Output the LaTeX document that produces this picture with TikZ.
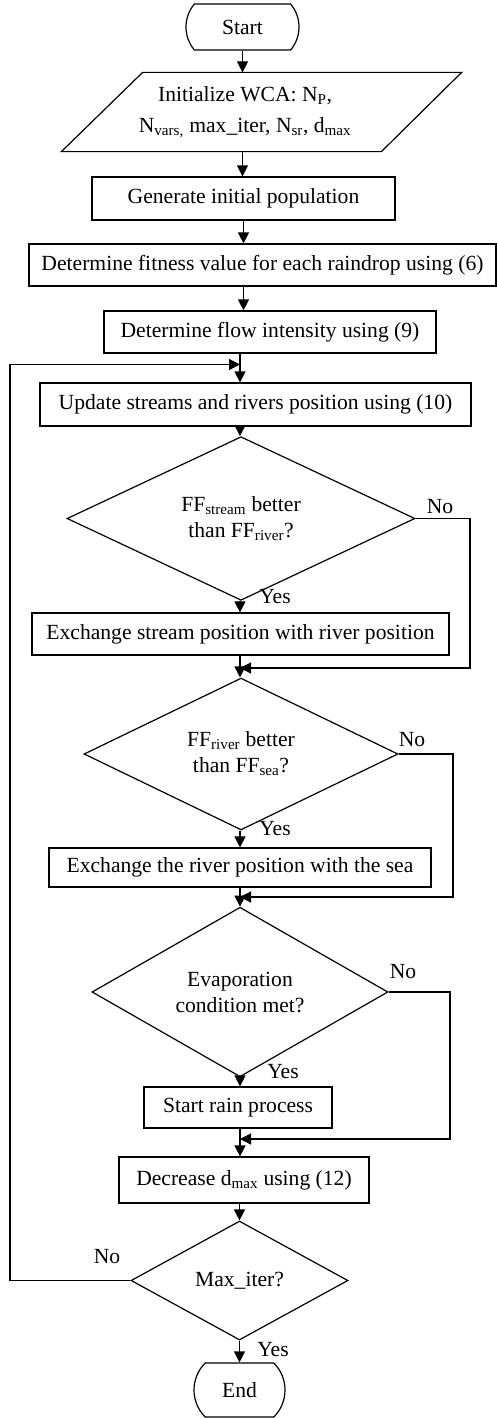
\documentclass[tikz,border=0pt]{standalone}
\usepackage{fontspec}
\setmainfont{Liberation Serif}
\usetikzlibrary{arrows.meta,shapes.geometric,shapes.misc}
\newcommand{\tsub}[1]{\textsubscript{#1}}
\begin{document}
\begin{tikzpicture}[x=1pt,y=-1pt,
  every node/.style={font=\fontsize{21.6}{26}\selectfont},
  line width=1.2pt,
  box/.style={draw, rectangle, inner sep=0pt},
  dia/.style={draw, diamond, inner sep=0pt, align=center},
  term/.style={draw, rounded rectangle, inner sep=0pt},
  arr/.style={-{Triangle[length=11pt,width=11pt]}},
  lbl/.style={inner sep=0pt}
]
\useasboundingbox (0,0) rectangle (497,1418);

\node[term, minimum width=113pt, minimum height=46pt, rounded rectangle arc length=80] (start) at (242.5,27) {Start};
\node[minimum width=399pt, minimum height=78pt, inner sep=0pt] (init) at (261.5,112) {};
\draw (init.south west) -- ++(320,0) -- (init.north east) -- ++(-319,0) -- cycle;
\node[align=center, font=\fontsize{21.6}{31}\selectfont] (inittext) at (245,112.5) {Initialize WCA: N\tsub{P},\\ N\tsub{vars,} max\_iter, N\tsub{sr}, d\tsub{max}};
\node[box, minimum width=303pt, minimum height=43pt] (gen) at (243.5,198.5) {Generate initial population};
\node[box, minimum width=467pt, minimum height=42pt] (fit) at (262.5,265) {Determine fitness value for each raindrop using (6)};
\node[box, minimum width=332pt, minimum height=42pt] (flow) at (270,332) {Determine flow intensity using (9)};
\node[box, minimum width=431pt, minimum height=43pt] (upd) at (255.5,404.5) {Update streams and rivers position using (10)};
\node[dia, minimum width=348pt, minimum height=139pt] (d1) at (241,518.5) {FF\tsub{stream} better\\than FF\tsub{river}?};
\node[box, minimum width=417pt, minimum height=42pt] (ex1) at (240.5,634) {Exchange stream position with river position};
\node[dia, minimum width=314pt, minimum height=132pt] (d2) at (241,754) {FF\tsub{river} better\\than FF\tsub{sea}?};
\node[box, minimum width=382pt, minimum height=39pt] (ex2) at (240,867.5) {Exchange the river position with the sea};
\node[dia, minimum width=296pt, minimum height=150pt] (d3) at (240,992) {Evaporation\\condition met?};
\node[box, minimum width=188pt, minimum height=41pt] (rain) at (238,1107.5) {Start rain process};
\node[box, minimum width=250pt, minimum height=46pt] (dec) at (244,1180) {Decrease d\tsub{max} using (12)};
\node[dia, minimum width=217pt, minimum height=119pt] (d4) at (239.5,1280.5) {Max\_iter?};
\node[term, minimum width=91pt, minimum height=54pt, rounded rectangle arc length=90] (end) at (239.5,1390) {End};

\coordinate (ax) at (240,0);
\draw[arr] (start.south) -- (start.south |- init.north);
\draw[arr] (start.south |- init.south) -- (start.south |- gen.north);
\draw[arr] (gen.south) -- (gen.south |- fit.north);
\draw[arr] (gen.south |- fit.south) -- (gen.south |- flow.north);
\draw[arr] (ax |- flow.south) -- (ax |- upd.north);
\draw[arr] (ax |- upd.south) -- (ax |- d1.north);
\draw[arr] (ax |- d1.south) -- (ax |- ex1.north);
\draw[arr] (ax |- ex1.south) -- (ax |- d2.north);
\draw[arr] (ax |- d2.south) -- (ax |- ex2.north);
\draw[arr] (ax |- ex2.south) -- (ax |- d3.north);
\draw[arr] (ax |- d3.south) -- (ax |- rain.north);
\draw[arr] (ax |- rain.south) -- (ax |- dec.north);
\draw[arr] (d4.north |- dec.south) -- (d4.north);
\draw[arr] (d4.south) -- (d4.south |- end.north);

\coordinate (m1) at (240,668); \coordinate (c1) at (470,668);
\coordinate (m2) at (240,897); \coordinate (c2) at (453,897);
\coordinate (m3) at (240,1139); \coordinate (c3) at (450,1139);
\coordinate (lb) at (10,364.5); \coordinate (lm) at (240,364.5);
\draw[arr] (d1.east) -| (c1) -- (m1);
\draw[arr] (d2.east) -| (c2) -- (m2);
\draw[arr] (d3.east) -| (c3) -- (m3);
\draw[arr] (d4.west) -| (lb) -- (lm);

\node[lbl] (no1) at (440,507) {No};
\node[lbl] (yes1) at (275,597) {Yes};
\node[lbl] (no2) at (412,740) {No};
\node[lbl] (yes2) at (275,829) {Yes};
\node[lbl] (no3) at (403,972) {No};
\node[lbl] (yes3) at (283,1072) {Yes};
\node[lbl] (no4) at (107,1257) {No};
\node[lbl] (yes4) at (273,1350) {Yes};
\end{tikzpicture}
\end{document}
